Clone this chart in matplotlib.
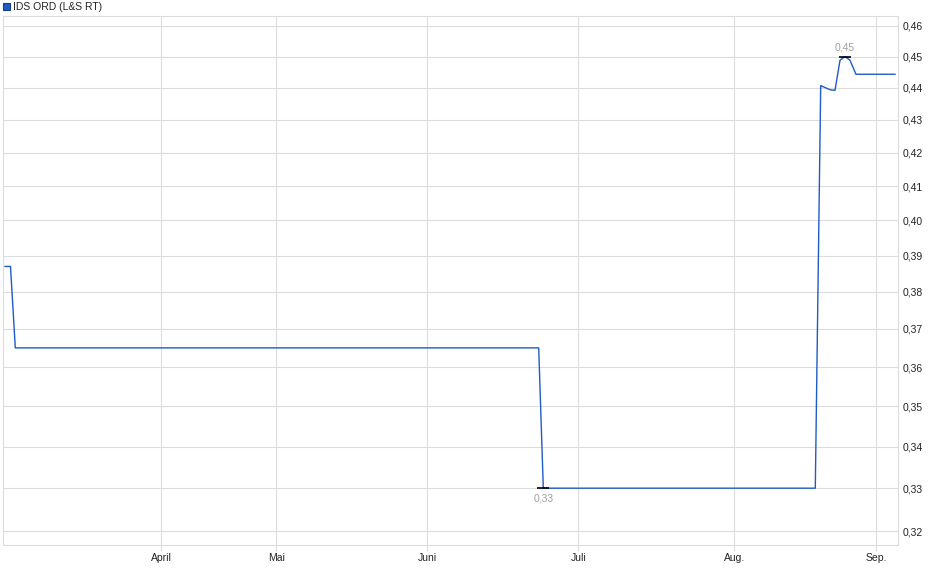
import matplotlib
matplotlib.use("Agg")
import matplotlib.pyplot as plt
from matplotlib.patches import Rectangle
from matplotlib.ticker import FixedLocator, NullLocator

plt.rcParams['font.family'] = ['Liberation Sans', 'DejaVu Sans']

# price series (x = quote index, y = price in EUR)
quote_idx = [0, 1.1, 2.06, 106.74, 107.66, 162.06, 163.14, 165, 166, 167, 168, 169, 170.2, 178]
price = [0.387, 0.387, 0.365, 0.365, 0.330, 0.330, 0.4407, 0.4394, 0.4392, 0.4488, 0.450, 0.4488, 0.4443, 0.4443]

month_pos = [31.27, 54.27, 84.47, 114.67, 145.87, 174.2]
month_labels = ['April', 'Mai', 'Juni', 'Juli', 'Aug.', 'Sep.']

y_ticks = [0.32, 0.33, 0.34, 0.35, 0.36, 0.37, 0.38, 0.39, 0.40, 0.41, 0.42, 0.43, 0.44, 0.45, 0.46]

series_name = 'IDS ORD (L&S RT)'
line_col = '#1f5bc6'
grid_col = '#dcdcdc'

W, H = 940, 579
fig = plt.figure(figsize=(W / 100, H / 100), dpi=100)
ax = fig.add_axes([3 / W, 1 - 545 / H, (898 - 3) / W, (545 - 16) / H])

ax.plot(quote_idx, price, color=line_col, lw=1.0, zorder=3)

ax.set_yscale('log')
ax.set_ylim(0.3168, 0.4633)
ax.set_xlim(-0.4, 178.6)

ax.yaxis.set_major_locator(FixedLocator(y_ticks))
ax.yaxis.set_minor_locator(NullLocator())
ax.set_yticklabels([f'{v:.2f}'.replace('.', ',') for v in y_ticks])
ax.yaxis.tick_right()
ax.tick_params(axis='y', which='both', length=0, pad=3, labelsize=7.5, labelcolor='#222222')

ax.set_xticks(month_pos)
ax.set_xticklabels(month_labels)
ax.xaxis.set_minor_locator(NullLocator())
ax.tick_params(axis='x', length=4, width=0.8, color=grid_col, pad=2, labelsize=7.5, labelcolor='#222222')

ax.grid(True, color=grid_col, lw=0.8)
ax.set_axisbelow(True)
for s in ax.spines.values():
    s.set_color(grid_col)
    s.set_linewidth(0.8)

# min / max markers
i_min = price.index(min(price))
i_max = price.index(max(price))
for i, dy in [(i_min, -7.2), (i_max, 6.6)]:
    ax.plot(quote_idx[i], price[i], marker='_', ms=8, mew=1.2, color='black', zorder=4)
    ax.annotate(f'{price[i]:.2f}'.replace('.', ','), (quote_idx[i], price[i]),
                xytext=(0, dy), textcoords='offset points', ha='center', va='center',
                fontsize=7.5, color='#a0a0a0')

# legend box top left
fig.patches.append(Rectangle((3 / W, 1 - 10 / H), 7 / W, 7 / H, transform=fig.transFigure,
                             facecolor=line_col, edgecolor='#1a3f80', lw=0.8))
fig.text(13 / W, 1 - 6.5 / H, series_name, fontsize=7.5, va='center', ha='left', color='#222222')

fig.savefig('out.png', dpi=100)
